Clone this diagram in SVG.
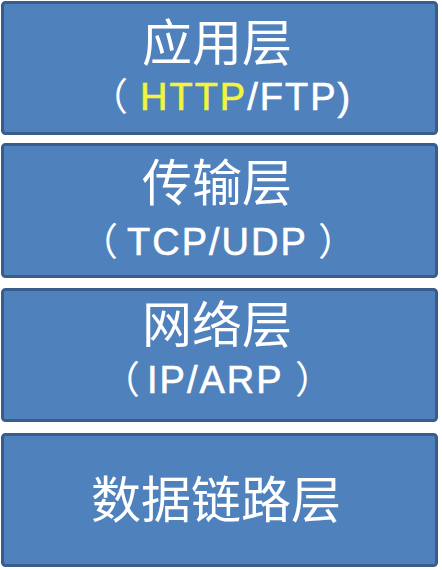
<svg xmlns="http://www.w3.org/2000/svg" width="442" height="570" viewBox="0 0 442 570">
<style>
.box{fill:#4f81bd;stroke:#385d8a;stroke-width:3}
.cjk{font-family:"Noto Sans CJK SC","Noto Sans",sans-serif;font-size:50px;fill:#ffffff;text-anchor:middle}
.lat{font-family:"Liberation Sans","Noto Sans CJK SC",sans-serif;font-size:38px;fill:#ffffff;stroke:#ffffff;stroke-width:0.6px;letter-spacing:2px}
.par{font-family:"Noto Sans CJK SC",sans-serif;letter-spacing:0;stroke-width:0}
.yel{fill:#f4f43a;stroke:#f4f43a}
</style>
<rect width="442" height="570" fill="#ffffff"/>
<g id="app">
<rect class="box" x="2.5" y="2.5" width="434" height="131" rx="3"/>
<text class="cjk" x="217" y="61">应用层</text>
<text class="lat" y="110"><tspan class="par" x="90">（</tspan><tspan class="yel" x="140">HTTP</tspan><tspan>/FTP)</tspan></text>
</g>
<g id="transport">
<rect class="box" x="2.5" y="144.5" width="434" height="132" rx="3"/>
<text class="cjk" x="217" y="201">传输层</text>
<text class="lat" y="255"><tspan class="par" x="80">（</tspan><tspan x="127">TCP/UDP</tspan><tspan class="par" x="318">）</tspan></text>
</g>
<g id="network">
<rect class="box" x="2.5" y="289.5" width="434" height="131" rx="3"/>
<text class="cjk" x="217" y="343">网络层</text>
<text class="lat" y="393"><tspan class="par" x="102">（</tspan><tspan x="147">IP/ARP</tspan><tspan class="par" x="295">）</tspan></text>
</g>
<g id="datalink">
<rect class="box" x="2.5" y="434.5" width="434" height="131" rx="3"/>
<text class="cjk" x="216" y="518">数据链路层</text>
</g>
<g id="connectors"></g>
</svg>
